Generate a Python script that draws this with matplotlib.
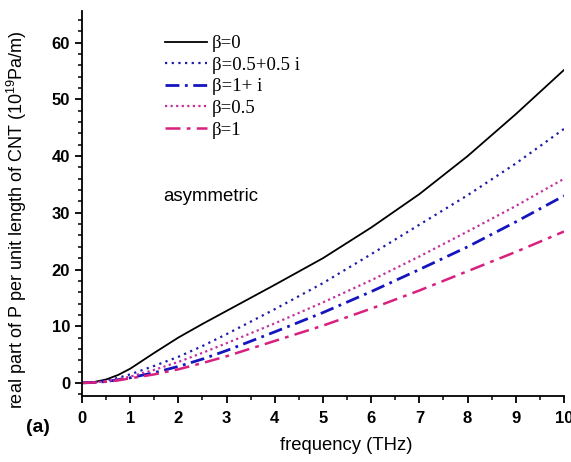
# -*- coding: utf-8 -*-
import numpy as np
import matplotlib.pyplot as plt
from matplotlib.ticker import MultipleLocator

plt.rcParams['font.family'] = ['Liberation Sans', 'DejaVu Sans']
plt.rcParams['mathtext.default'] = 'regular'

# values
freq = [0, 0.25, 0.5, 0.75, 1, 1.5, 2, 2.5, 3, 4, 5, 6, 7, 8, 9, 10]
p_b0 = [0, 0.15, 0.6, 1.4, 2.5, 5.3, 8.0, 10.4, 12.7, 17.3, 22.0, 27.4, 33.3, 40.0, 47.4, 55.2]
p_b05_05i = [0, 0.1, 0.4, 0.9, 1.5, 3.0, 4.6, 6.5, 8.6, 13.0, 17.6, 22.7, 27.9, 33.1, 38.7, 44.8]
p_b05 = [0, 0.08, 0.3, 0.65, 1.1, 2.3, 3.7, 5.3, 7.0, 10.5, 14.2, 18.1, 22.3, 26.7, 31.2, 36.0]
p_b1i = [0, 0.07, 0.25, 0.55, 0.9, 1.8, 2.9, 4.2, 5.7, 9.0, 12.4, 16.1, 20.0, 24.0, 28.4, 33.0]
p_b1 = [0, 0.06, 0.2, 0.45, 0.8, 1.5, 2.4, 3.5, 4.7, 7.4, 10.1, 13.1, 16.3, 19.7, 23.1, 26.7]

fig = plt.figure(figsize=(5.71, 4.62), dpi=100)
ax = fig.add_axes([0.1436, 0.1418, 0.8441, 0.8344])

ax.plot(freq, p_b0, color='black', lw=1.3, ls='-', label='β=0')
ax.plot(freq, p_b05_05i, color='#1c1ca8', lw=1.6, ls=(0, (1, 2)), label='β=0.5+0.5 i')
ax.plot(freq, p_b1i, color='#1515c0', lw=2.0, ls=(0, (5, 2, 1, 2)), label='β=1+ i')
ax.plot(freq, p_b05, color='#c2309e', lw=1.6, ls=(0, (1, 1.5)), label='β=0.5')
ax.plot(freq, p_b1, color='#d8207f', lw=1.8, ls=(0, (6, 2.5, 1.5, 2.5)), label='β=1')

ax.set_xlim(0, 10)
ax.set_ylim(-2.4, 65.6)
ax.xaxis.set_major_locator(MultipleLocator(1))
ax.xaxis.set_minor_locator(MultipleLocator(0.5))
ax.yaxis.set_major_locator(MultipleLocator(10))
ax.yaxis.set_minor_locator(MultipleLocator(2))
ax.spines['top'].set_visible(False)
ax.spines['right'].set_visible(False)
for s in ['left', 'bottom']:
    ax.spines[s].set_linewidth(1.3)
ax.tick_params(which='major', direction='out', length=5, width=1.3, labelsize=12)
ax.tick_params(axis='x', which='major', pad=5.5)
ax.tick_params(axis='y', which='major', pad=3.5)
ax.tick_params(which='minor', direction='out', length=3, width=1.1)
for lab in ax.get_xticklabels() + ax.get_yticklabels():
    lab.set_fontweight('bold')

fig.text(346.5 / 571, 1 - 446 / 462, 'frequency (THz)', fontsize=13.3,
         ha='center', va='center')
fig.text(17 / 571, 1 - 220 / 462, 'real part of P per unit length of CNT (10$^{19}$Pa/m)',
         fontsize=13, rotation=90, ha='center', va='center')

leg = ax.legend(loc='upper left', bbox_to_anchor=(165 / 571, 1 - 35 / 462),
                bbox_transform=fig.transFigure, frameon=False,
                prop={'family': 'Liberation Serif', 'size': 13.5},
                borderpad=0, borderaxespad=0,
                handlelength=2.24, handletextpad=0.27, labelspacing=0.24)

fig.text(163 / 571, 1 - 196 / 462, 'asymmetric', fontsize=13.4, va='center')
fig.text(37.5 / 571, 1 - 427 / 462, '(a)', fontsize=14, fontweight='bold',
         ha='center', va='center')

fig.savefig('out.png', dpi=100)
